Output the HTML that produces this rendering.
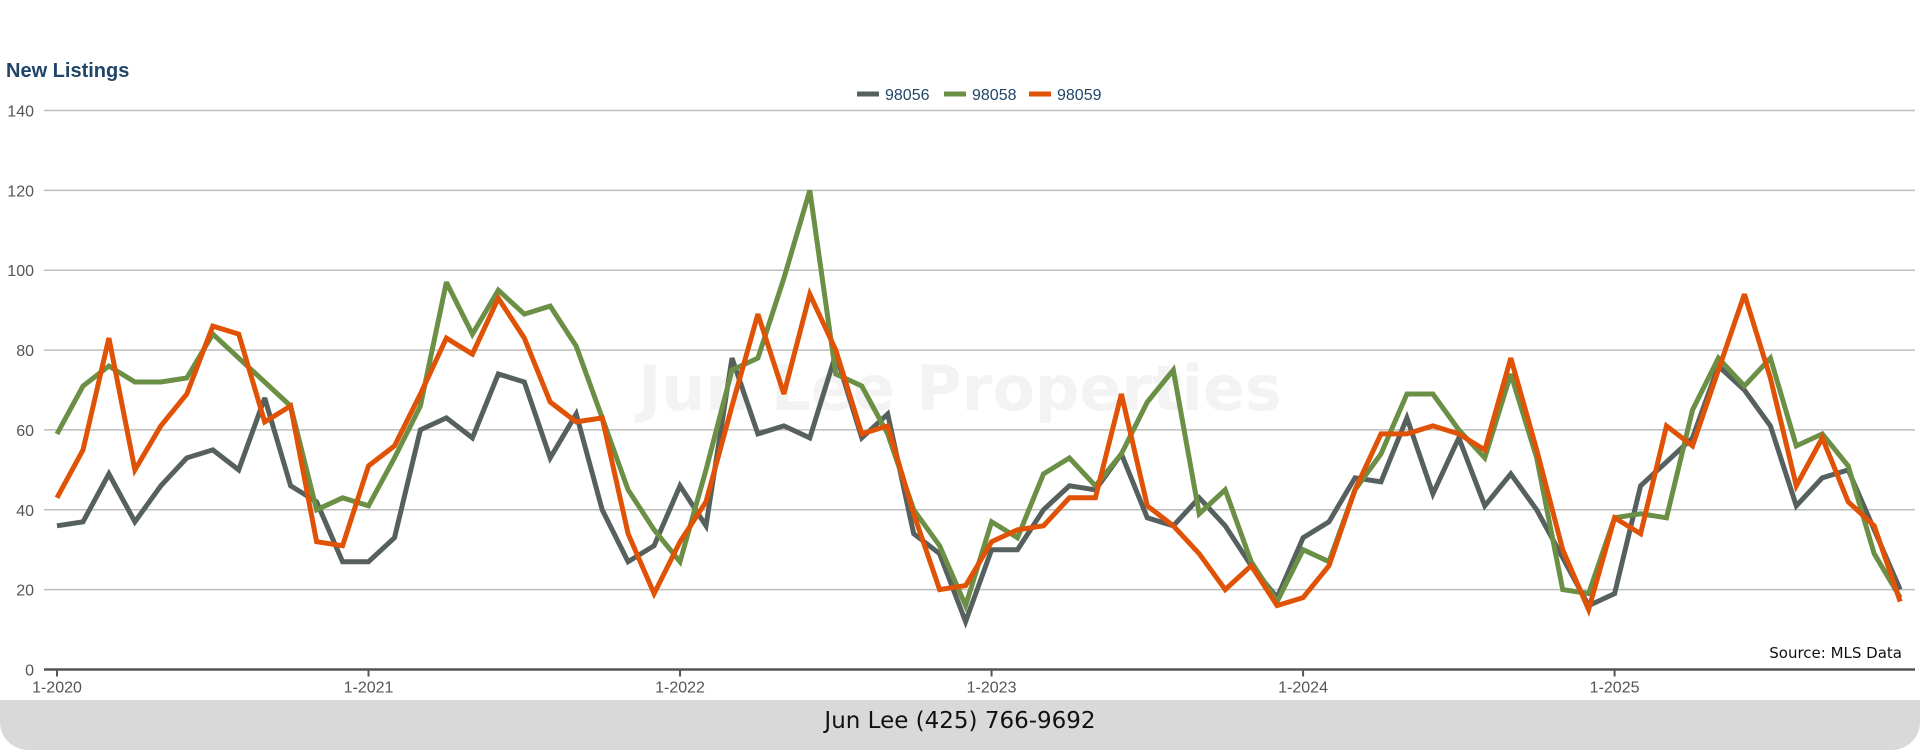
<!DOCTYPE html>
<html><head><meta charset="utf-8"><style>
html,body{margin:0;padding:0;background:#fff;}
body{width:1920px;height:750px;overflow:hidden;position:relative;font-family:"Liberation Sans",sans-serif;}
#footer{position:absolute;left:0;top:700px;width:1920px;height:50px;background:#d9d9d9;border-radius:0 0 28px 28px;}
#footer span{position:absolute;left:0;width:1920px;top:8px;text-align:center;font-family:"DejaVu Sans","Liberation Sans",sans-serif;font-size:23px;color:#111;}
</style></head><body>
<svg id="chart" width="1920" height="750" style="position:absolute;left:0;top:0"></svg>
<div id="footer"><span>Jun Lee (425) 766-9692</span></div>
<script>
const seriesNames = ["98056","98058","98059"];
const seriesColors = ["#56605f","#6a8f45","#e05206"];
const yTicks = [0,20,40,60,80,100,120,140];
const xTickLabels = ["1-2020","1-2021","1-2022","1-2023","1-2024","1-2025"];
const s98056 = [36,37,49,37,46,53,55,50,68,46,42,27, 27,33,60,63,58,74,72,53,64,40,27,31, 46,36,78,59,61,58,79,58,64,34,29,12, 30,30,40,46,45,54,38,36,43,36,26,18, 33,37,48,47,63,44,58,41,49,40,28,16, 19,46,52,58,76,70,61,41,48,50,35,20];
const s98058 = [59,71,76,72,72,73,84,78,72,66,40,43, 41,53,66,97,84,95,89,91,81,63,45,35, 27,50,75,78,98,120,74,71,59,40,31,16, 37,33,49,53,46,54,67,75,39,45,27,17, 30,27,45,54,69,69,60,53,74,53,20,19, 38,39,38,65,78,71,78,56,59,51,29,18];
const s98059 = [43,55,83,50,61,69,86,84,62,66,32,31, 51,56,69,83,79,93,83,67,62,63,34,19, 32,42,66,89,69,94,80,59,61,39,20,21, 32,35,36,43,43,69,41,36,29,20,26,16, 18,26,45,59,59,61,59,55,78,55,30,15, 38,34,61,56,75,94,73,46,58,42,36,17];
const allSeries = [s98056,s98058,s98059];

const svg = document.getElementById('chart');
const NS = 'http://www.w3.org/2000/svg';
const X0 = 57, XSTEP = 25.96, Y0 = 669.5, YTOP = 110.5, YMAX = 140;
function xScale(i){return X0 + i*XSTEP;}
function yScale(v){return Y0 - (v/YMAX)*(Y0-YTOP);}
function mk(tag, attrs, txt){const e=document.createElementNS(NS,tag);for(const k in attrs)e.setAttribute(k,attrs[k]);if(txt!==undefined)e.textContent=txt;svg.appendChild(e);return e;}

// watermark
let wm = mk('text',{x:960,y:410,'text-anchor':'middle','font-size':62,'font-weight':'bold','font-family':'DejaVu Sans, Liberation Sans, sans-serif',fill:'#f3f3f3'},'Jun Lee Properties');



// title
let t = mk('text',{x:6,y:77,'font-size':20,'font-weight':'bold',fill:'#1f4569'},'New Listings');



// gridlines and y labels
yTicks.forEach(v=>{
  if(v>0){
    const g = mk('line',{x1:44,x2:1915,y1:yScale(v),y2:yScale(v),stroke:'#bdbdbd','stroke-width':1.5});
    
    
  }
  const l = mk('text',{x:34,y:yScale(v)+6,'text-anchor':'end','font-size':16,fill:'#555'},String(v));
  
  
});
// x axis
const ax = mk('line',{x1:44,x2:1915,y1:Y0,y2:Y0,stroke:'#555','stroke-width':2.5});


xTickLabels.forEach((lab,k)=>{
  const x = xScale(k*12);
  const tk = mk('line',{x1:x,x2:x,y1:Y0,y2:Y0+7,stroke:'#555','stroke-width':2});
  
  
  const tl = mk('text',{x:x,y:Y0+23,'text-anchor':'middle','font-size':16,fill:'#555'},lab);
  
  
});
// series lines
allSeries.forEach((arr,si)=>{
  const pts = arr.map((v,i)=>xScale(i).toFixed(1)+','+yScale(v).toFixed(1)).join(' ');
  const p = mk('polyline',{points:pts,fill:'none',stroke:seriesColors[si],'stroke-width':5,'stroke-linejoin':'miter','stroke-miterlimit':3});
  
  
});
// legend
const legX = [857,944,1029];
seriesNames.forEach((n,si)=>{
  const lx = legX[si];
  const sw = mk('line',{x1:lx,x2:lx+22,y1:94,y2:94,stroke:seriesColors[si],'stroke-width':5});
  
  
  const lt = mk('text',{x:lx+28,y:100,'font-size':16,fill:'#1f4569'},n);
  
  
});
// source
const src = mk('text',{x:1902,y:658,'text-anchor':'end','font-size':15,fill:'#111','font-family':'DejaVu Sans, Liberation Sans, sans-serif'},'Source: MLS Data');


</script>
</body></html>
